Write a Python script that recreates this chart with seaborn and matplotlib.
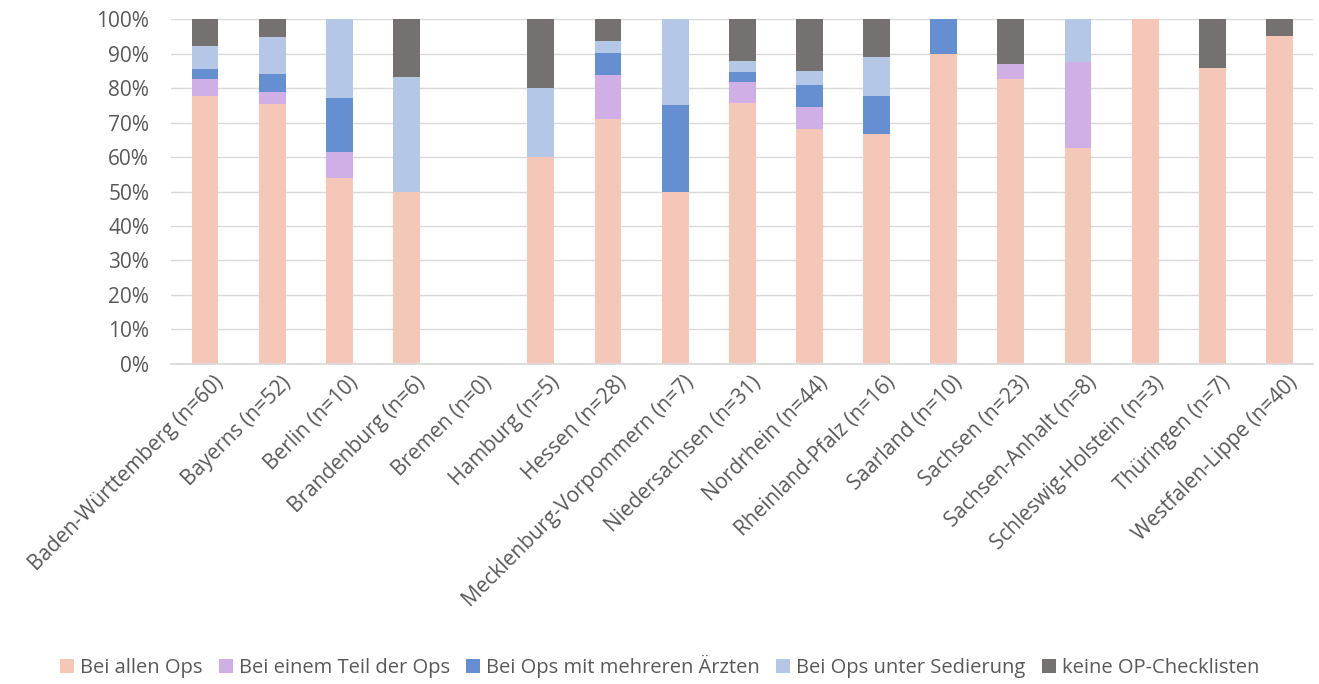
import numpy as np
import pandas as pd
import matplotlib
matplotlib.use("Agg")
import matplotlib.pyplot as plt
import matplotlib.transforms as mtransforms
import seaborn as sns
from matplotlib.patches import Patch
from matplotlib.ticker import PercentFormatter

# ========== DATA ==========
states = [
    "Baden-Württemberg (n=60)", "Bayerns (n=52)", "Berlin (n=10)", "Brandenburg (n=6)",
    "Bremen (n=0)", "Hamburg (n=5)", "Hessen (n=28)", "Mecklenburg-Vorpommern (n=7)",
    "Niedersachsen (n=31)", "Nordrhein (n=44)", "Rheinland-Pfalz (n=16)", "Saarland (n=10)",
    "Sachsen (n=23)", "Sachsen-Anhalt (n=8)", "Schleswig-Holstein (n=3)", "Thüringen (n=7)",
    "Westfalen-Lippe (n=40)",
]
series_names = [
    "Bei allen Ops", "Bei einem Teil der Ops", "Bei Ops mit mehreren Ärzten",
    "Bei Ops unter Sedierung", "keine OP-Checklisten",
]
alle      = [77.7, 75.5, 53.9, 50.0, 0, 60.0, 71.0, 50.0, 75.8, 68.1, 66.7, 90.0, 82.6, 62.5, 100, 85.7, 95.0]
teil      = [4.8, 3.5, 7.7, 0, 0, 0, 12.8, 0, 6.1, 6.4, 0, 0, 4.5, 25.0, 0, 0, 0]
mehrere   = [3.0, 5.1, 15.4, 0, 0, 0, 6.5, 25.0, 2.8, 6.4, 11.1, 10.0, 0, 0, 0, 0, 0]
sedierung = [6.6, 10.7, 23.0, 33.3, 0, 20.0, 3.3, 25.0, 3.2, 4.2, 11.1, 0, 0, 12.5, 0, 0, 0]
keine     = [7.9, 5.2, 0, 16.7, 0, 20.0, 6.4, 0, 12.1, 14.9, 11.1, 0, 12.9, 0, 0, 14.3, 5.0]

colors = ["#F4C7B8", "#CFAFE6", "#658FD1", "#B4C7E7", "#767171"]

# ========== PLOT ==========
sns.set_theme(style="white")
plt.rcParams["font.family"] = ["Open Sans", "DejaVu Sans"]

fig = plt.figure(figsize=(13.19, 6.84), dpi=100)
ax = fig.add_axes([0.130, 0.468, 0.8655, 0.504])

bottom = np.zeros(len(states))
for name, vals, col in zip(series_names, [alle, teil, mehrere, sedierung, keine], colors):
    df = pd.DataFrame({"state": states, "value": vals})
    sns.barplot(data=df, x="state", y="value", order=states, color=col, width=0.4,
                bottom=bottom.copy(), saturation=1, ax=ax, errorbar=None, linewidth=0)
    bottom += np.array(vals)

ax.set_ylim(0, 100)
ax.set_xlim(-0.5, len(states) - 0.5)
ax.set_yticks(np.arange(0, 101, 10))
ax.yaxis.set_major_formatter(PercentFormatter(decimals=0))
ax.grid(axis="y", color="#D9D9D9", linewidth=1)
ax.set_axisbelow(True)
for s in ["top", "right", "left"]:
    ax.spines[s].set_visible(False)
ax.spines["bottom"].set_color("#D9D9D9")
ax.set_xlabel("")
ax.set_ylabel("")
ax.tick_params(axis="both", colors="#595959", labelsize=15, length=0)
ax.tick_params(axis="y", pad=16)
ax.tick_params(axis="x", pad=6)

# shift rotated labels a bit to the right, like the original
offset = mtransforms.ScaledTranslation(8 / 100, 0, fig.dpi_scale_trans)
for lab in ax.get_xticklabels():
    lab.set_rotation(45)
    lab.set_ha("right")
    lab.set_rotation_mode("anchor")
    lab.set_transform(lab.get_transform() + offset)

handles = [Patch(facecolor=c, edgecolor="none", label=n) for n, c in zip(series_names, colors)]
fig.legend(handles=handles, loc="center", bbox_to_anchor=(0.5, 0.025), ncol=5, frameon=False,
           fontsize=14.5, handlelength=0.7, handleheight=0.7, handletextpad=0.3, columnspacing=0.8,
           labelcolor="#595959")

fig.savefig("out.png", dpi=100)
